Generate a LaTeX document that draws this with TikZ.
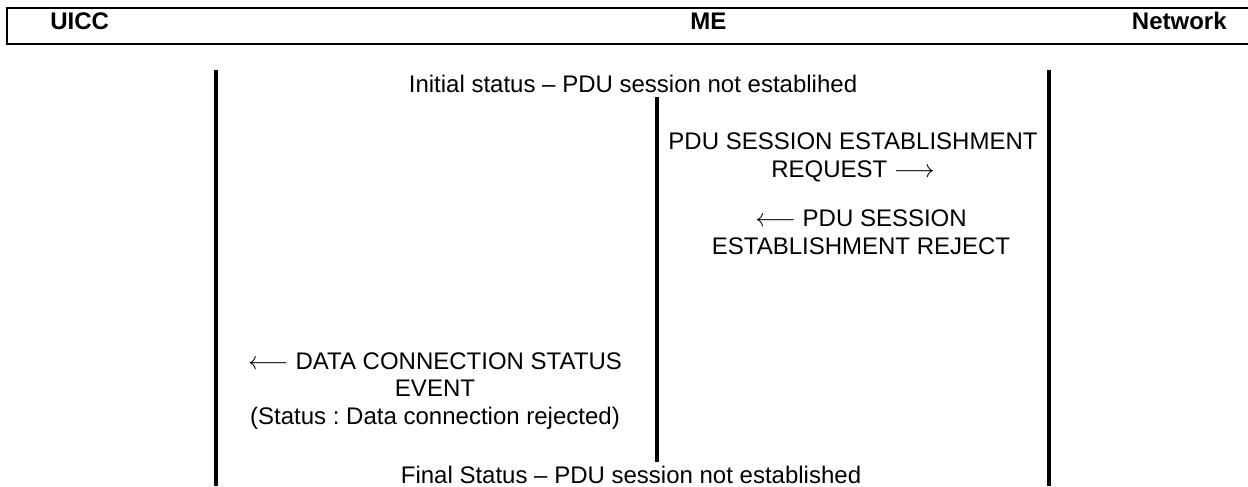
\documentclass[tikz,border=0pt]{standalone}
\usepackage{fontspec}
\setmainfont{Liberation Sans}
\usetikzlibrary{positioning}
\frenchspacing

\begin{document}
\begin{tikzpicture}[
  lifeline/.style={line width=2.3pt},
  head box/.style={line width=1.1pt},
  head node/.style={font=\fontsize{13.66}{15.4}\selectfont\bfseries, inner sep=0pt},
  msg node/.style={font=\fontsize{13.66}{15.4}\selectfont, align=center, inner sep=0pt},
]
\useasboundingbox (0,0) rectangle (24.96,9.72);

% Header row (open at the right edge)
\draw[head box] (0.14,8.84) rectangle (25.2,9.56);
\node[head node, anchor=base west] (uicc) at (1.0,9.12) {UICC};
\node[head node, anchor=base west] (me) at (13.8,9.12) {ME};
\node[head node, anchor=base east] (network) at (24.54,9.12) {Network};

% Lifelines
\coordinate (uicc top) at (4.32,8.32);
\coordinate (uicc bot) at (4.32,0);
\coordinate (me top) at (13.14,7.78);
\coordinate (me bot) at (13.14,0.48);
\coordinate (net top) at (20.98,8.32);
\coordinate (net bot) at (20.98,0);
\draw[lifeline] (uicc top) -- (uicc bot);
\draw[lifeline] (me top) -- (me bot);
\draw[lifeline] (net top) -- (net bot);

% Status lines and messages (base = last line)
\node[msg node, anchor=base] (initial) at (12.66,7.86) {Initial status -- PDU session not establihed};
\node[msg node, anchor=base] (req) at (17.06,6.18) {PDU SESSION ESTABLISHMENT\\REQUEST $\longrightarrow$};
\node[msg node, anchor=base] (rej) at (17.22,4.64) {$\longleftarrow$ PDU SESSION\\ESTABLISHMENT REJECT};
\node[msg node, anchor=base] (dcs) at (8.7,1.24) {$\longleftarrow$ DATA CONNECTION STATUS\\EVENT\\(Status : Data connection rejected)};
\node[msg node, anchor=base] (final) at (12.62,0.06) {Final Status -- PDU session not established};

\end{tikzpicture}
\end{document}
